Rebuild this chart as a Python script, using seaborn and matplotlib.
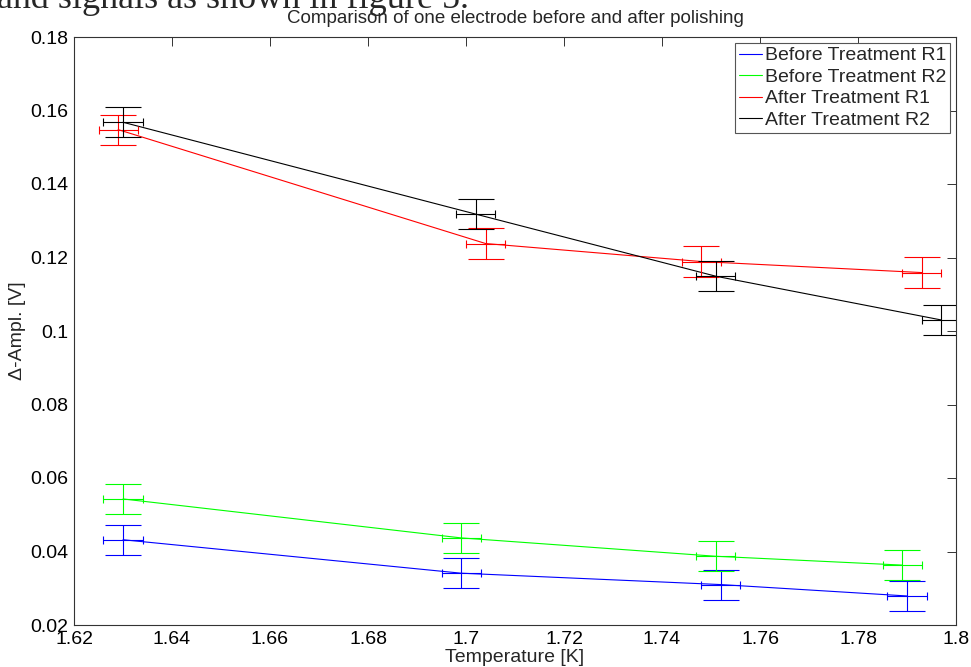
import numpy as np
import pandas as pd
import matplotlib
matplotlib.use("Agg")
import matplotlib.pyplot as plt
import seaborn as sns
from matplotlib.ticker import FuncFormatter

# ─── Данные ─────────────────────────────────────────────────────────────────────
series_names = ["Before Treatment R1", "Before Treatment R2",
                "After Treatment R1", "After Treatment R2"]
series_colors = ["#0000ff", "#00ff00", "#ff0000", "#000000"]

temp_b1 = [1.630, 1.699, 1.752, 1.790]
ampl_b1 = [0.0432, 0.0341, 0.0310, 0.0279]
temp_b2 = [1.630, 1.699, 1.751, 1.789]
ampl_b2 = [0.0543, 0.0437, 0.0387, 0.0363]
temp_a1 = [1.629, 1.704, 1.748, 1.793]
ampl_a1 = [0.1548, 0.1238, 0.1189, 0.1159]
temp_a2 = [1.630, 1.702, 1.751, 1.797]
ampl_a2 = [0.1568, 0.1318, 0.1149, 0.1030]

temp_err = 0.004
ampl_err = 0.0041

x_ticks = [1.62, 1.64, 1.66, 1.68, 1.70, 1.72, 1.74, 1.76, 1.78, 1.80]
y_ticks = [0.02, 0.04, 0.06, 0.08, 0.10, 0.12, 0.14, 0.16, 0.18]

temps = [temp_b1, temp_b2, temp_a1, temp_a2]
ampls = [ampl_b1, ampl_b2, ampl_a1, ampl_a2]

df = pd.concat(
    [pd.DataFrame({"series": name, "temp": t, "ampl": a})
     for name, t, a in zip(series_names, temps, ampls)],
    ignore_index=True,
)

# ─── График ─────────────────────────────────────────────────────────────────────
sns.set_style("white")
plt.rcParams["font.family"] = ["Liberation Sans", "DejaVu Sans"]

fig = plt.figure(figsize=(9.71, 6.67), dpi=100)
ax = fig.add_axes([74 / 971, 42 / 667, 882 / 971, 588 / 667])

palette = dict(zip(series_names, series_colors))
sns.lineplot(data=df, x="temp", y="ampl", hue="series", palette=palette,
             estimator=None, sort=False, linewidth=0.8, ax=ax, legend=False)

for name, t, a, c in zip(series_names, temps, ampls, series_colors):
    ax.errorbar(t, a, yerr=ampl_err, fmt="none", ecolor=c, elinewidth=0.8,
                capsize=13, capthick=0.8)
    ax.errorbar(t, a, xerr=temp_err, fmt="none", ecolor=c, elinewidth=0.8,
                capsize=3, capthick=0.8)

ax.set_xlim(1.62, 1.80)
ax.set_ylim(0.02, 0.18)
ax.set_xticks(x_ticks)
ax.set_yticks(y_ticks)
fmt = FuncFormatter(lambda v, p: "%g" % round(v, 4))
ax.xaxis.set_major_formatter(fmt)
ax.yaxis.set_major_formatter(fmt)
ax.tick_params(direction="in", length=6.5, width=0.7, top=True, right=True,
               labelsize=14, colors="#333333", labelcolor="black", pad=4)
for s in ax.spines.values():
    s.set_color("#333333")
    s.set_linewidth(0.8)

ax.set_xlabel("Temperature [K]", fontsize=14, labelpad=1)
ax.set_ylabel("\u0394-Ampl. [V]", fontsize=14, labelpad=3)
ax.set_title("Comparison of one electrode before and after polishing",
             fontsize=13.5, pad=10)

handles = [plt.Line2D([], [], color=c, linewidth=0.8) for c in series_colors]
leg = ax.legend(handles, series_names, loc="upper right", fontsize=14,
                frameon=True, fancybox=False, framealpha=1, edgecolor="#555555",
                borderpad=0.2, labelspacing=0.2, handlelength=1.2,
                handletextpad=0.15, borderaxespad=0.3)
leg.get_frame().set_linewidth(0.8)

# обрезанная строка текста документа над графиком
fig.text(-0.003, 1 - 8 / 667, "and signals as shown in figure 5.",
         family=["Liberation Serif", "DejaVu Serif"], fontsize=26, va="baseline")

fig.savefig("out.png", dpi=100)
plt.close(fig)
